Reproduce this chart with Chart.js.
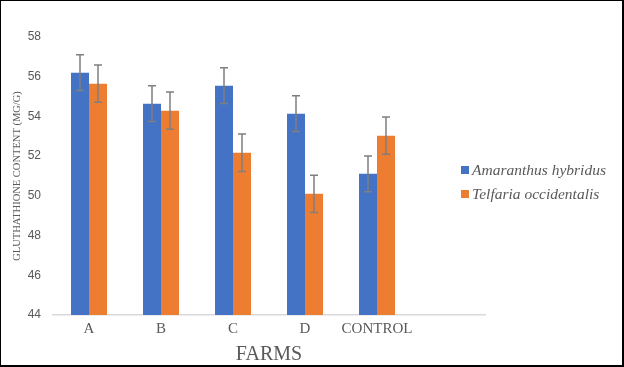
<!DOCTYPE html>
<html>
<head>
<meta charset="utf-8">
<script src="https://cdn.jsdelivr.net/npm/chart.js@4/dist/chart.umd.min.js"></script>
<style>
  body { margin: 0; background: #fff; }
  #wrap { position: relative; width: 624px; height: 367px; }
  #frame { position: absolute; left: 0; top: 0; width: 624px; height: 367px; box-sizing: border-box;
           border-top: 1px solid #000; border-left: 1px solid #000; border-right: 2px solid #000; border-bottom: 2px solid #000;
           pointer-events: none; }
  #legend { position: absolute; left: 461px; top: 158px; font-family: "Liberation Serif", serif; font-style: italic;
            font-size: 15.5px; color: #595959; line-height: 24px; }
  #legend span.box { display: inline-block; width: 8px; height: 8px; margin-right: 3px; vertical-align: 1px; }
</style>
</head>
<body>
<div id="wrap">
  <canvas id="myChart" width="624" height="367"></canvas>
  <div id="legend"></div>
  <div id="frame"></div>
</div>
<script>
const farms = ['A', 'B', 'C', 'D', 'CONTROL', ''];
const amaranthus = [56.2, 54.64, 55.55, 54.14, 51.11];
const telfaria = [55.65, 54.29, 52.17, 50.1, 53.03];
const amaranthusErr = [0.9, 0.9, 0.9, 0.9, 0.9];
const telfariaErr = [0.94, 0.94, 0.94, 0.94, 0.94];
const yTicks = [44, 46, 48, 50, 52, 54, 56, 58];

const seriesNames = ['Amaranthus hybridus', 'Telfaria occidentalis'];
const seriesColors = ['#4472C4', '#ED7D31'];
const errs = [amaranthusErr, telfariaErr];

// legend as html text
const leg = document.getElementById('legend');
seriesNames.forEach((n, i) => {
    const d = document.createElement('div');
    d.innerHTML = '<span class="box" style="background:' + seriesColors[i] + '"></span>' + n;
    leg.appendChild(d);
});

const errorBars = {
    id: 'errorBars',
    afterDatasetsDraw(chart) {
        const c = chart.ctx;
        const y = chart.scales.y;
        c.save();
        c.strokeStyle = '#7F7F7F';
        c.lineWidth = 1.5;
        chart.data.datasets.forEach((ds, di) => {
            const meta = chart.getDatasetMeta(di);
            meta.data.forEach((bar, i) => {
                const v = ds.data[i];
                if (v == null) return;
                const e = errs[di][i];
                const top = y.getPixelForValue(v + e);
                const bot = y.getPixelForValue(v - e);
                c.beginPath();
                c.moveTo(bar.x, top); c.lineTo(bar.x, bot);
                c.moveTo(bar.x - 4, top); c.lineTo(bar.x + 4, top);
                c.moveTo(bar.x - 4, bot); c.lineTo(bar.x + 4, bot);
                c.stroke();
            });
        });
        c.restore();
    }
};

const ctx = document.getElementById('myChart');

new Chart(ctx, {
    type: 'bar',
    data: {
        labels: farms,
        datasets: [{
            label: seriesNames[0],
            data: amaranthus,
            backgroundColor: seriesColors[0],
            categoryPercentage: 0.5,
            barPercentage: 1.0
        }, {
            label: seriesNames[1],
            data: telfaria,
            backgroundColor: seriesColors[1],
            categoryPercentage: 0.5,
            barPercentage: 1.0
        }]
    },
    options: {
        responsive: false,
        animation: false,
        layout: { padding: { left: 0, right: 139, top: 37, bottom: 0 } },
        plugins: {
            legend: { display: false },
            tooltip: { enabled: false }
        },
        scales: {
            x: {
                grid: { display: false, drawTicks: false },
                border: { color: '#D9D9D9', width: 1.5 },
                ticks: {
                    color: '#595959',
                    font: { family: 'Liberation Serif', size: 15 },
                    padding: 5,
                    maxRotation: 0,
                    minRotation: 0,
                    autoSkip: false
                },
                title: {
                    display: true,
                    text: 'FARMS',
                    color: '#595959',
                    font: { family: 'Liberation Serif', size: 20 },
                    padding: { top: 0, bottom: 0 }
                },
                afterFit(s) { s.height = 52; }
            },
            y: {
                min: 44,
                max: 58,
                afterBuildTicks(s) { s.ticks = yTicks.map(v => ({ value: v })); },
                grid: { display: false, drawTicks: false },
                border: { display: false },
                ticks: {
                    color: '#595959',
                    font: { family: 'Liberation Sans', size: 12 },
                    padding: 12
                },
                title: {
                    display: true,
                    text: 'GLUTHATHIONE CONTENT (MG/G)',
                    color: '#595959',
                    font: { family: 'Liberation Serif', size: 10.5 },
                    padding: { top: 11, bottom: 0 }
                },
                afterFit(s) { s.width = 53; }
            }
        }
    },
    plugins: [errorBars]
});
</script>
</body>
</html>
